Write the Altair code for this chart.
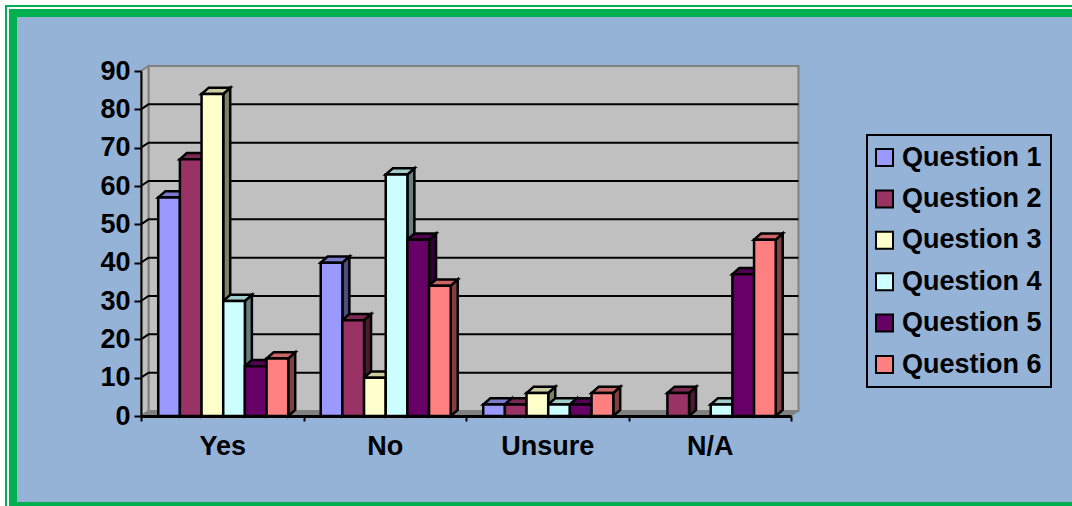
import altair as alt
import pandas as pd

# Survey responses per question, one list per answer group
groups = ["Yes", "No", "Unsure", "N/A"]
questions = ["Question 1", "Question 2", "Question 3", "Question 4", "Question 5", "Question 6"]
yes_values = [57, 67, 84, 30, 13, 15]
no_values = [40, 25, 10, 63, 46, 34]
unsure_values = [3, 3, 6, 3, 3, 6]
na_values = [0, 6, 0, 3, 37, 46]

front_colors = ["#9999FF", "#993366", "#FFFFCC", "#CCFFFF", "#660066", "#FF8080"]
top_colors = ["#7A7ACC", "#7A2952", "#CCCCA3", "#A3CCCC", "#520052", "#CC6666"]
side_colors = ["#4D4D80", "#4D1A33", "#808066", "#668080", "#330033", "#804040"]

FONT = "Liberation Sans"
BLUE = "#95B3D7"
GREEN = "#00B050"
WALL = "#C0C0C0"
EDGE = "#808080"
BLACK = "#000000"
BAR_STROKE = 2.5
ORIGIN_X, ORIGIN_Y = 141, 71

# Extrusion of the walls and bars, in axis units
WALL_DX, WALL_DY = 0.046, 1.3
BAR_DX, BAR_DY = 0.043, 1.6
BAR_W = 0.8 / 6
GROUP_GAP = 0.106
Y_MAX = 90

fronts, sides, tops = [], [], []
for g, vals in enumerate([yes_values, no_values, unsure_values, na_values]):
    for q, v in enumerate(vals):
        if v == 0:
            continue
        x0 = g + GROUP_GAP + q * BAR_W
        x1 = x0 + BAR_W
        key = f"{g}-{q}"
        fronts.append({"x0": x0, "x1": x1, "v": v, "base": 0, "question": questions[q]})
        sides += [
            {"bar": key, "x": x1, "lo": 0, "hi": v, "fill": side_colors[q]},
            {"bar": key, "x": x1 + BAR_DX, "lo": BAR_DY, "hi": v + BAR_DY, "fill": side_colors[q]},
        ]
        tops += [
            {"bar": key, "y": v, "a": x0, "b": x1, "fill": top_colors[q]},
            {"bar": key, "y": v + BAR_DY, "a": x0 + BAR_DX, "b": x1 + BAR_DX, "fill": top_colors[q]},
        ]

x_scale = alt.Scale(domain=[0, 4], nice=False, zero=False)
y_scale = alt.Scale(domain=[0, Y_MAX], nice=False)

# Axes: ticks sit on group boundaries, names on group centres
label_expr = "+".join(
    f"(datum.value == {i + 0.5} ? '{name}' : '')" for i, name in enumerate(groups)
)
x_axis = alt.Axis(
    values=[0, 0.5, 1, 1.5, 2, 2.5, 3, 3.5, 4], labelExpr=label_expr,
    tickSize=5, tickWidth=2, tickColor=BLACK,
    tickOpacity={"condition": {"test": "datum.value % 1 != 0", "value": 0}, "value": 1},
    domainColor=BLACK, domainWidth=3, grid=False, zindex=1,
    labelFont=FONT, labelFontSize=27, labelFontWeight="bold", labelColor=BLACK,
    labelPadding=12, labelFlush=False, labelOverlap=False, labelBound=False,
)
y_axis = alt.Axis(
    values=list(range(0, Y_MAX + 1, 10)),
    tickSize=7, tickWidth=2, tickColor=BLACK,
    domainColor=BLACK, domainWidth=2, grid=False, zindex=1,
    labelFont=FONT, labelFontSize=27, labelFontWeight="bold", labelColor=BLACK,
    labelPadding=4, labelFlush=False, labelOverlap=False, labelBound=False,
)


def qx(field):
    return alt.X(field, type="quantitative", scale=x_scale, axis=x_axis, title=None)


def qy(field):
    return alt.Y(field, type="quantitative", scale=y_scale, axis=y_axis, title=None)


def px_rect(left, top, right, bottom, color):
    """Page-furniture rectangle placed in pixels relative to the plot origin."""
    return alt.Chart(pd.DataFrame({"k": [0]})).mark_rect(color=color).encode(
        x=alt.value(left - ORIGIN_X), x2=alt.value(right - ORIGIN_X),
        y=alt.value(top - ORIGIN_Y), y2=alt.value(bottom - ORIGIN_Y),
    )


frame = [
    px_rect(5, 5, 1072, 506, GREEN),
    px_rect(7, 7, 1072, 506, "#FFFFFF"),
    px_rect(9, 9, 1072, 506, GREEN),
    px_rect(17, 17, 1072, 502, BLUE),
]

# Back wall, left wall and floor
back_wall = alt.Chart(pd.DataFrame({
    "x0": [WALL_DX], "x1": [4 + WALL_DX], "y0": [WALL_DY], "y1": [Y_MAX + WALL_DY],
})).mark_rect(fill=WALL, stroke=EDGE, strokeWidth=2).encode(
    x=qx("x0"), x2="x1", y=qy("y0"), y2="y1",
)
left_wall = alt.Chart(pd.DataFrame({
    "x": [0, WALL_DX], "lo": [0, WALL_DY], "hi": [Y_MAX, Y_MAX + WALL_DY],
})).mark_area(orient="vertical", fill=WALL, stroke=EDGE, strokeWidth=2).encode(
    x=qx("x"), y=qy("lo"), y2="hi",
)
floor = alt.Chart(pd.DataFrame({
    "y": [0, WALL_DY], "a": [0, WALL_DX], "b": [4, 4 + WALL_DX],
})).mark_area(orient="horizontal", fill=EDGE, stroke=EDGE, strokeWidth=1).encode(
    y=qy("y"), x=qx("a"), x2="b",
)

# Gridlines run up the left wall, then across the back wall
grid_rows = []
for level in range(10, Y_MAX, 10):
    grid_rows += [
        {"level": level, "step": 0, "x": 0, "y": level},
        {"level": level, "step": 1, "x": WALL_DX, "y": level + WALL_DY},
        {"level": level, "step": 2, "x": 4 + WALL_DX, "y": level + WALL_DY},
    ]
grid = alt.Chart(pd.DataFrame(grid_rows)).mark_line(color=BLACK, strokeWidth=2).encode(
    x=qx("x"), y=qy("y"), detail="level:N", order="step:Q",
)

bar_sides = alt.Chart(pd.DataFrame(sides)).mark_area(
    orient="vertical", stroke=BLACK, strokeWidth=BAR_STROKE, strokeJoin="miter"
).encode(
    x=qx("x"), y=qy("lo"), y2="hi",
    fill=alt.Fill("fill:N", scale=None),
    detail="bar:N",
)
bar_tops = alt.Chart(pd.DataFrame(tops)).mark_area(
    orient="horizontal", stroke=BLACK, strokeWidth=BAR_STROKE, strokeJoin="miter"
).encode(
    y=qy("y"), x=qx("a"), x2="b",
    fill=alt.Fill("fill:N", scale=None),
    detail="bar:N",
)
bar_fronts = alt.Chart(pd.DataFrame(fronts)).mark_rect(stroke=BLACK, strokeWidth=BAR_STROKE).encode(
    x=qx("x0"), x2="x1", y=qy("v"), y2="base",
    fill=alt.Fill(
        "question:N",
        scale=alt.Scale(domain=questions, range=front_colors),
        legend=alt.Legend(
            orient="none", legendX=726, legendY=64, title=None,
            symbolType="square", symbolSize=290, symbolStrokeColor=BLACK,
            symbolStrokeWidth=2, symbolOpacity=1, symbolOffset=-5,
            labelFont=FONT, labelFontSize=27, labelFontWeight="bold", labelColor=BLACK,
            labelLimit=300, labelOffset=4, rowPadding=13.4,
            strokeColor=BLACK, padding=9,
            values=questions,
        ),
    ),
)

chart = alt.layer(
    *frame, back_wall, left_wall, floor, grid, bar_sides, bar_tops, bar_fronts
).properties(
    width=650,
    height=345,
    padding={"left": ORIGIN_X, "top": ORIGIN_Y, "right": 281, "bottom": 90},
    autosize=alt.AutoSizeParams(type="none"),
    background="#FFFFFF",
).configure_view(stroke=None).configure_legend(strokeWidth=2)

chart.save("out.html", embed_options={"renderer": "svg", "actions": False})
